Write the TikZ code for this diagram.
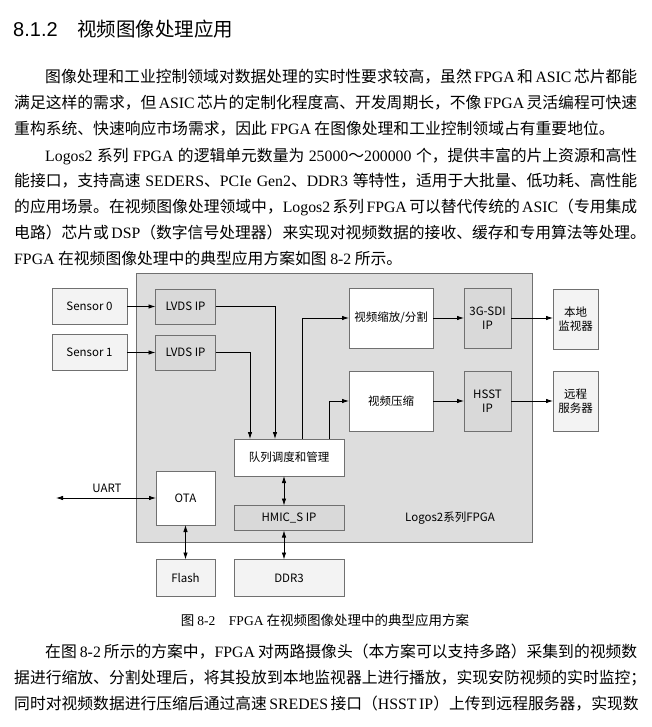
\documentclass[tikz,border=0pt]{standalone}
\usepackage{fontspec}
\usetikzlibrary{arrows.meta}
\setmainfont{Noto Sans CJK SC}
\newfontfamily\lat{Liberation Serif}
\newfontfamily\hsans{Liberation Sans}
\XeTeXlinebreaklocale "zh"
\XeTeXlinebreakskip=0pt plus 3pt
\newcommand\EN[1]{{\lat #1}}
\definecolor{bigfill}{HTML}{DDDDDD}
\definecolor{ipfill}{HTML}{D9D9D9}
\definecolor{extfill}{HTML}{F3F3F3}
\definecolor{boxline}{HTML}{707070}
\tikzset{
  body/.style={font=\fontsize{15.8pt}{20pt}\selectfont, inner sep=0pt, anchor=base west},
  dbox/.style={draw=boxline, line width=0.8pt, inner sep=0pt, outer sep=0pt, align=center,
    font=\fontsize{11.5pt}{14pt}\selectfont},
  ipbox/.style={dbox, fill=ipfill},
  wbox/.style={dbox, fill=white},
  extbox/.style={dbox, fill=extfill},
  arr/.style={-{Latex[length=7pt,width=4.5pt]}, line width=0.8pt},
  darr/.style={{Latex[length=7pt,width=4.5pt]}-{Latex[length=7pt,width=4.5pt]}, line width=0.8pt}
}
\begin{document}
\begin{tikzpicture}[x=1pt,y=-1pt]
\useasboundingbox (0,0) rectangle (652,727);
\fill[white] (0,0) rectangle (652,727);
% heading
\node[inner sep=0pt, anchor=base west, font=\fontsize{20pt}{24pt}\selectfont] (hnum) at (13,37) {\hsans 8.1.2};
\node[inner sep=0pt, anchor=base west, font=\fontsize{19.5pt}{24pt}\selectfont] (htitle) at (77,37) {视频图像处理应用};
% paragraph 1
\node[body] (p1a) at (45,83) {\makebox[592pt][s]{图像处理和工业控制领域对数据处理的实时性要求较高，虽然 \EN{FPGA} 和 \EN{ASIC} 芯片都能}};
\node[body] (p1b) at (14,109) {\makebox[623pt][s]{满足这样的需求，但 \EN{ASIC} 芯片的定制化程度高、开发周期长，不像 \EN{FPGA} 灵活编程可快速}};
\node[body] (p1c) at (14,135) {重构系统、快速响应市场需求，因此 \EN{FPGA} 在图像处理和工业控制领域占有重要地位。};
% paragraph 2
\node[body] (p2a) at (45,162) {\makebox[592pt][s]{\EN{Logos2} 系列 \EN{FPGA} 的逻辑单元数量为 \EN{25000}～\EN{200000} 个，提供丰富的片上资源和高性}};
\node[body] (p2b) at (14,187) {\makebox[623pt][s]{能接口，支持高速 \EN{SEDERS}、\EN{PCIe Gen2}、\EN{DDR3} 等特性，适用于大批量、低功耗、高性能}};
\node[body] (p2c) at (14,213) {\makebox[623pt][s]{的应用场景。在视频图像处理领域中，\EN{Logos2} 系列 \EN{FPGA} 可以替代传统的 \EN{ASIC}（专用集成}};
\node[body] (p2d) at (14,238) {\makebox[623pt][s]{电路）芯片或 \EN{DSP}（数字信号处理器）来实现对视频数据的接收、缓存和专用算法等处理。}};
\node[body] (p2e) at (14,264) {\EN{FPGA} 在视频图像处理中的典型应用方案如图 \EN{8-2} 所示。};
% diagram
\node[draw=boxline, fill=bigfill, line width=0.8pt, minimum width=396pt, minimum height=269pt, inner sep=0pt] (fpga) at (334,407.5) {};
\node[extbox, minimum width=75pt, minimum height=36pt] (s0) at (89.5,306.5) {Sensor 0};
\node[extbox, minimum width=75pt, minimum height=36pt] (s1) at (89.5,352.5) {Sensor 1};
\node[ipbox, minimum width=60pt, minimum height=35pt] (l0) at (185.5,306.5) {LVDS IP};
\node[ipbox, minimum width=60pt, minimum height=35pt] (l1) at (185.5,352.5) {LVDS IP};
\node[wbox, minimum width=84pt, minimum height=60pt] (sc) at (391,318) {视频缩放/分割};
\node[ipbox, minimum width=47pt, minimum height=60pt] (sdi) at (487.5,318) {3G-SDI\\IP};
\node[extbox, minimum width=45pt, minimum height=60pt] (loc) at (575.5,319) {本地\\监视器};
\node[wbox, minimum width=84pt, minimum height=60pt] (cp) at (391,401) {视频压缩};
\node[ipbox, minimum width=47pt, minimum height=60pt] (hsst) at (487.5,401) {HSST\\IP};
\node[extbox, minimum width=45pt, minimum height=60pt] (rem) at (575.5,401) {远程\\服务器};
\node[wbox, minimum width=110pt, minimum height=37pt] (q) at (289,457.5) {队列调度和管理};
\node[wbox, minimum width=59pt, minimum height=54pt] (ota) at (185.5,498) {OTA};
\node[ipbox, minimum width=110pt, minimum height=25pt] (hm) at (289,518) {HMIC\_S IP};
\node[extbox, minimum width=59pt, minimum height=37pt] (fl) at (185.5,578) {Flash};
\node[extbox, minimum width=110pt, minimum height=37pt] (ddr) at (289,578) {DDR3};
\node[inner sep=0pt, font=\fontsize{11.5pt}{14pt}\selectfont] (lg) at (450,518) {Logos2系列FPGA};
\coordinate (uartL) at (56,498);
\node[inner sep=0pt, font=\fontsize{11.5pt}{14pt}\selectfont] (uart) at (107,488) {UART};
% connectors
\draw[arr] (s0) -- (l0);
\draw[arr] (s1) -- (l1);
\draw[arr] (l0.east) -| ([xshift=-14pt]q.north);
\draw[arr] (l1.east) -| ([xshift=-39pt]q.north);
\draw[arr] ([xshift=13pt]q.north) |- (sc.west);
\draw[arr] ([xshift=40pt]q.north) |- (cp.west);
\draw[arr] (sc) -- (sdi);
\draw[arr] (sdi.east) -- (sdi.east -| loc.west);
\draw[arr] (cp) -- (hsst);
\draw[arr] (hsst) -- (rem);
\draw[darr] ([xshift=-5pt]q.south) -- ([xshift=-5pt]hm.north);
\draw[darr] ([xshift=-5pt]hm.south) -- ([xshift=-5pt]ddr.north);
\draw[darr] (ota) -- (fl);
\draw[darr] (uartL) -- (ota.west |- uartL);
% caption
\node[inner sep=0pt, anchor=base, font=\fontsize{13.5pt}{16pt}\selectfont] (cap) at (325,625) {图 \EN{8-2}\quad \EN{FPGA} 在视频图像处理中的典型应用方案};
% paragraph 3
\node[body] (p3a) at (45,657) {\makebox[592pt][s]{在图 \EN{8-2} 所示的方案中，\EN{FPGA} 对两路摄像头（本方案可以支持多路）采集到的视频数}};
\node[body] (p3b) at (14,683) {\makebox[623pt][s]{据进行缩放、分割处理后，将其投放到本地监视器上进行播放，实现安防视频的实时监控；}};
\node[body] (p3c) at (14,709) {\makebox[623pt][s]{同时对视频数据进行压缩后通过高速 \EN{SREDES} 接口（\EN{HSST IP}）上传到远程服务器，实现数}};
\end{tikzpicture}
\end{document}
